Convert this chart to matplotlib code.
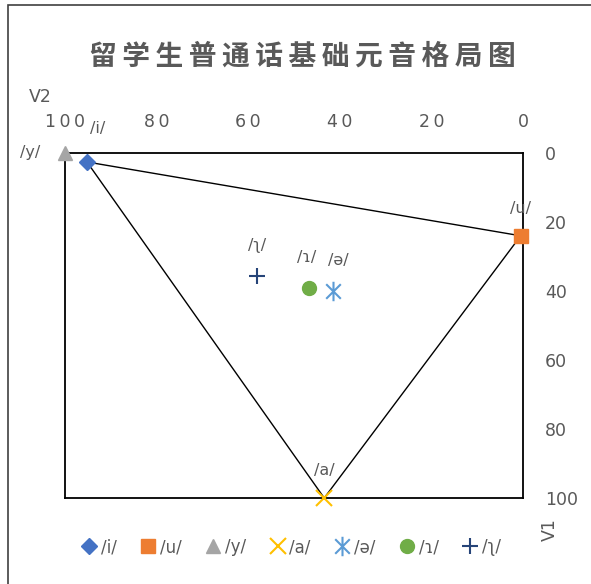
import matplotlib
matplotlib.use('Agg')
import matplotlib.pyplot as plt
from matplotlib.patches import Rectangle
from matplotlib.path import Path

plt.rcParams['font.family'] = ['DejaVu Sans', 'Noto Sans CJK SC']

# vowel data: V2 (x, reversed) and V1 (y, reversed)
vowels = ['/i/', '/u/', '/y/', '/a/', '/ə/', '/ɿ/', '/ʅ/']
v2 = [95.2, 0.5, 100.0, 43.4, 41.5, 46.7, 58.1]
v1 = [2.6, 24.0, 0.0, 100.0, 40.0, 39.1, 35.7]
# triangle formed by /i/ -> /u/ -> /a/ -> /i/
outline = ['/i/', '/u/', '/a/', '/i/']

xticks = [100, 80, 60, 40, 20, 0]
yticks = [0, 20, 40, 60, 80, 100]

# excel style "star" marker: vertical bar plus an x
star = Path([(0, -1), (0, 1), (-0.75, -0.75), (0.75, 0.75), (-0.75, 0.75), (0.75, -0.75)],
            [Path.MOVETO, Path.LINETO, Path.MOVETO, Path.LINETO, Path.MOVETO, Path.LINETO])

markers = ['D', 's', '^', 'x', star, 'o', '+']
colors = ['#4472C4', '#ED7D31', '#A5A5A5', '#FFC000', '#5B9BD5', '#70AD47', '#264478']
sizes = [8, 10, 10, 11, 14, 10, 11]

gray = '#595959'

fig = plt.figure(figsize=(5.91, 5.84), dpi=100)
ax = fig.add_axes([65 / 591, 1 - 498 / 584, 458 / 591, 345 / 584])

lx = [v2[vowels.index(v)] for v in outline]
ly = [v1[vowels.index(v)] for v in outline]
ax.plot(lx, ly, color='black', lw=1, zorder=2)

for name, x, y, m, c, s in zip(vowels, v2, v1, markers, colors, sizes):
    kw = dict(markerfacecolor=c, markeredgecolor=c)
    if isinstance(m, Path) or m in ('x', '+'):
        kw['markeredgewidth'] = 1.5
        kw['markerfacecolor'] = 'none'
    ax.plot([x], [y], linestyle='none', marker=m, markersize=s,
            label=name, zorder=4, clip_on=False, **kw)

# data labels
offsets = {'/i/': (8, 24), '/u/': (0, 20), '/y/': (-25, 0), '/a/': (0, 20),
           '/ə/': (4, 22), '/ɿ/': (-2, 22), '/ʅ/': (0, 22)}
for name, x, y in zip(vowels, v2, v1):
    dx, dy = offsets[name]
    ax.annotate(name, (x, y), xytext=(dx, dy), textcoords='offset points',
                ha='center', va='center', color=gray, fontsize=11.5)

ax.set_xlim(100, 0)
ax.set_ylim(100, 0)
ax.set_xticks(xticks)
ax.set_yticks(yticks)
ax.xaxis.tick_top()
ax.yaxis.tick_right()
ax.tick_params(axis='x', length=0, pad=16, labelsize=12.5, labelcolor=gray)
ax.tick_params(axis='y', length=0, pad=16, labelsize=12.5, labelcolor=gray)
ax.set_xticklabels(['\u2009'.join(str(t)) for t in xticks])
for sp in ax.spines.values():
    sp.set_color('black')
    sp.set_linewidth(1.3)

fig.text(40 / 591, 1 - 97 / 584, 'V2', ha='center', va='center', color=gray, fontsize=12.5)
fig.text(550 / 591, 1 - 530 / 584, 'V1', ha='center', va='center', color=gray,
         fontsize=12.5, rotation=90)

title = '留学生普通话基础元音格局图'
fig.text(302 / 591, 1 - 57 / 584, '\u2009'.join(title), ha='center', va='center',
         color=gray, fontsize=20, fontweight='bold',
         family=['Noto Sans CJK SC', 'DejaVu Sans'])

ax.legend(loc='center', bbox_to_anchor=(290 / 591, 1 - 547 / 584),
          bbox_transform=fig.transFigure, ncol=7, frameon=False, fontsize=12,
          handletextpad=0.1, columnspacing=1.3, handlelength=1.2, labelcolor=gray)

fig.patches.append(Rectangle((8 / 591, -0.1), 1.2, 1.1 - 5 / 584, transform=fig.transFigure,
                             fill=False, ec='#404040', lw=1.2))

fig.savefig('out.png', dpi=100)
